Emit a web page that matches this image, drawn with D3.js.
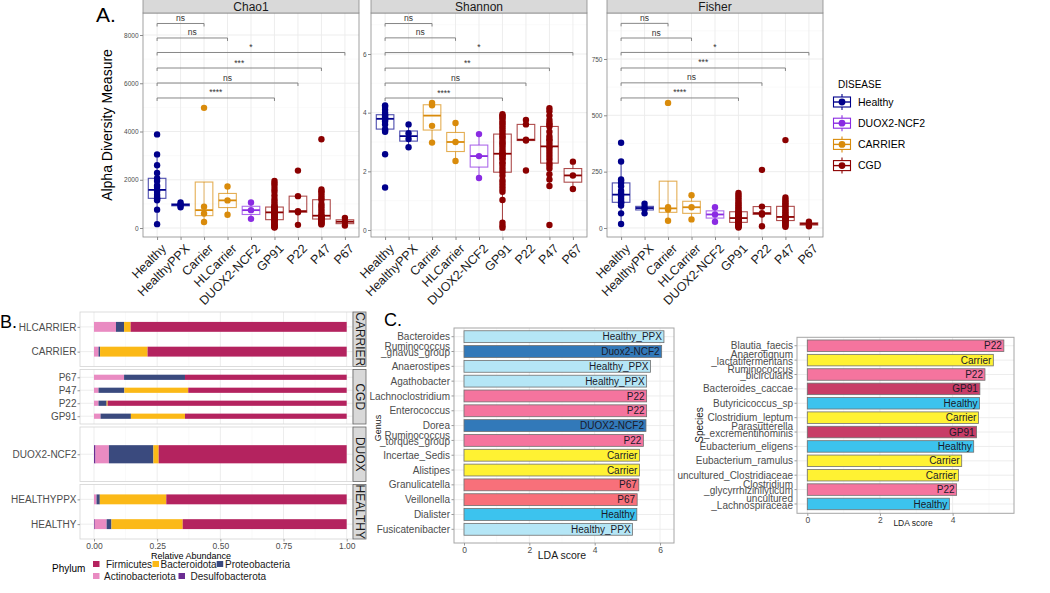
<!DOCTYPE html>
<html><head><meta charset="utf-8">
<script src="https://cdn.jsdelivr.net/npm/d3@7"></script>
<style>body{margin:0;background:#fff} svg{display:block}</style>
</head><body><svg id="c" width="1050" height="593"></svg>
<script>
// ================= DATA =================
// Panel A : alpha diversity
const categories = ["Healthy","HealthyPPX","Carrier","HLCarrier","DUOX2-NCF2","GP91","P22","P47","P67"];
const categoryDisease = ["Healthy","Healthy","CARRIER","CARRIER","DUOX2-NCF2","CGD","CGD","CGD","CGD"];
const diseases = ["Healthy","DUOX2-NCF2","CARRIER","CGD"];
const diseaseColors = ["#00008B","#8A2BE2","#D98B0B","#8B0000"];

const chao1Values = [
  [160,760,1150,1200,1230,1300,1380,1500,1580,1700,1760,1950,2060,2280,2600,3050,3880],
  [860,940,980,1060],
  [250,600,880,4980],
  [550,1145,1720],
  [380,740,1060],
  [20,40,60,90,120,150,200,250,290,320,345,380,420,450,480,510,540,570,600,625,648,670,690,710,740,760,790,810,830,850,869,920,1000,1100,1200,1350,1500,1620,1750,1850,1950],
  [130,650,700,1320,2380],
  [150,180,220,260,300,340,372,400,420,440,460,490,510,600,700,800,900,1000,1172,1250,1350,1450,1520,1600,3680],
  [100,260,420]
];
const shannonValues = [
  [1.45,2.58,3.35,3.40,3.44,3.60,3.70,3.75,3.79,3.82,3.85,3.90,3.93,4.00,4.10,4.20,4.25],
  [2.82,3.1,3.3,3.6],
  [2.98,3.55,4.25,4.33],
  [2.35,3.0,3.65],
  [1.77,2.52,3.27],
  [0.08,0.15,0.25,1.02,1.3,1.4,1.5,1.6,1.7,1.85,1.97,2.05,2.15,2.25,2.3,2.4,2.45,2.5,2.55,2.58,2.6,2.65,2.72,2.8,2.88,2.95,3.0,3.08,3.15,3.2,3.27,3.35,3.42,3.5,3.58,3.65,3.72,3.8,3.85,3.9,3.95],
  [2.03,3.05,3.08,3.6,3.75],
  [0.17,1.5,1.72,1.9,2.1,2.2,2.28,2.4,2.5,2.6,2.7,2.8,2.85,2.95,3.05,3.1,3.2,3.35,3.53,3.6,3.65,3.75,3.9,4.05,4.15],
  [1.4,1.86,2.33]
];
const fisherValues = [
  [18,65,100,110,114,120,130,140,148,155,165,185,200,210,215,295,378],
  [65,85,92,108],
  [32,82,92,555],
  [38,92,145],
  [28,60,92],
  [2,5,8,10,12,14,16,18,20,23,25,27,29,31,33,35,37,39,41,43,44,46,48,50,53,56,59,62,65,68,72,78,85,92,100,108,115,125,135,145,155],
  [8,60,66,95,258],
  [5,10,15,20,25,29,33,36,39,42,44,46,49,55,62,70,78,87,96,103,110,118,125,135,390],
  [8,18,28]
];
const chao1Ticks = [0,2000,4000,6000,8000];
const shannonTicks = [0,2,4,6];
const fisherTicks = [0,250,500,750];
const chao1Minor = [1000,3000,5000,7000];
const shannonMinor = [1,3,5,7];
const fisherMinor = [125,375,625,875];

const comparisonTargets = ["Carrier","HLCarrier","P67","P47","P22","GP91"];
const chao1Sig = ["ns","ns","*","***","ns","****"];
const shannonSig = ["ns","ns","*","**","ns","****"];
const fisherSig = ["ns","ns","*","***","ns","****"];
const chao1BracketY = [8477,7876,7275,6632,6010,5389];
const shannonBracketY = [7.04,6.55,6.05,5.52,5.01,4.50];
const fisherBracketY = [908,843,779,710,644,577];

// Panel B : relative abundance
const samples = ["HLCARRIER","CARRIER","P67","P47","P22","GP91","DUOX2-NCF2","HEALTHYPPX","HEALTHY"];
const sampleGroup = ["CARRIER","CARRIER","CGD","CGD","CGD","CGD","DUOX","HEALTHY","HEALTHY"];
const sampleGroups = ["CARRIER","CGD","DUOX","HEALTHY"];
const phyla = ["Desulfobacterota","Actinobacteriota","Proteobacteria","Bacteroidota","Firmicutes"];
const phylumColors = ["#6B2D92","#E98BC2","#3A4A7E","#FBB917","#B4235F"];
const desulfobacterota = [0,0,0,0,0,0,0.006,0,0.003];
const actinobacteriota = [0.087,0.018,0.119,0.018,0.018,0.026,0.053,0.010,0.047];
const proteobacteria   = [0.032,0.006,0.241,0.102,0.032,0.120,0.176,0.013,0.019];
const bacteroidota     = [0.026,0.188,0.000,0.253,0.004,0.214,0.021,0.263,0.282];
const firmicutes       = [0.855,0.788,0.640,0.627,0.946,0.640,0.744,0.714,0.649];
const phylumLegendOrder = ["Firmicutes","Bacteroidota","Proteobacteria","Actinobacteriota","Desulfobacterota"];
const bTicks = [0,0.25,0.5,0.75,1];

// Panel C : LEfSe
const genera = ["Bacteroides","Ruminococcus\n_gnavus_group","Anaerostipes","Agathobacter","Lachnoclostridium","Enterococcus","Dorea","Ruminococcus\n_torques_group","Incertae_Sedis","Alistipes","Granulicatella","Veillonella","Dialister","Fusicatenibacter"];
const genusLDA = [6.12,6.05,5.71,5.59,5.59,5.59,5.57,5.49,5.37,5.37,5.35,5.30,5.29,5.16];
const genusGroup = ["Healthy_PPX","Duox2-NCF2","Healthy_PPX","Healthy_PPX","P22","P22","DUOX2-NCF2","P22","Carrier","Carrier","P67","P67","Healthy","Healthy_PPX"];
const species = ["Blautia_faecis","Anaerotignum\n_lactatifermentans","Ruminococcus\n_bicirculans","Bacteroides_caccae","Butyricicoccus_sp","Clostridium_leptum","Parasutterella\n_excrementihominis","Eubacterium_eligens","Eubacterium_ramulus","uncultured_Clostridiaceae","Clostridium\n_glycyrrhizinilyticum","uncultured\n_Lachnospiraceae"];
const speciesLDA = [5.41,5.12,4.89,4.75,4.74,4.71,4.66,4.58,4.25,4.16,4.11,3.91];
const speciesGroup = ["P22","Carrier","P22","GP91","Healthy","Carrier","GP91","Healthy","Carrier","Carrier","P22","Healthy"];
const lefseGroups = ["Healthy_PPX","Duox2-NCF2","DUOX2-NCF2","P22","Carrier","P67","Healthy","GP91"];
const lefseColors = ["#B5E6F6","#3279B9","#3279B9","#F5749E","#FFF233","#F8707A","#3CC3EE","#C83D67"];
const genusTicks = [0,2,4,6];
const speciesTicks = [0,2,4];

// ================= DRAWING =================
const FONT = "'Liberation Sans', Arial, Helvetica, sans-serif";
const svg = d3.select("#c").style("font-family", FONT);
svg.append("rect").attr("width",1050).attr("height",593).attr("fill","#fff");
const GRID = "#ebebeb", GRID_MINOR = "#f5f5f5", BORDER = "#8a8a8a";

function boxStats(vals){
  const s = vals.slice().sort(d3.ascending);
  const q1 = d3.quantileSorted(s,0.25), med = d3.quantileSorted(s,0.5), q3 = d3.quantileSorted(s,0.75);
  const iqr = q3-q1;
  return {q1, med, q3,
    lo: d3.min(s.filter(v => v >= q1-1.5*iqr)),
    hi: d3.max(s.filter(v => v <= q3+1.5*iqr))};
}
const colorOfCat = i => diseaseColors[diseases.indexOf(categoryDisease[i])];

// ---- Panel A ----
const A_TOP = 13, A_BOT = 237, A_W = 216;
const facets = [
  {name:"Chao1", vals:chao1Values, ticks:chao1Ticks, minor:chao1Minor, domain:[-373,8912], brY:chao1BracketY, sig:chao1Sig, left:143},
  {name:"Shannon", vals:shannonValues, ticks:shannonTicks, minor:shannonMinor, domain:[-0.239,7.398], brY:shannonBracketY, sig:shannonSig, left:371},
  {name:"Fisher", vals:fisherValues, ticks:fisherTicks, minor:fisherMinor, domain:[-40,954], brY:fisherBracketY, sig:fisherSig, left:607}
];
facets.forEach(f => {
  const g = svg.append("g");
  const x = d3.scalePoint().domain(categories).range([f.left, f.left+A_W]).padding(0.6);
  const y = d3.scaleLinear().domain(f.domain).range([A_BOT, A_TOP]);
  g.append("rect").attr("x",f.left).attr("y",A_TOP).attr("width",A_W).attr("height",A_BOT-A_TOP).attr("fill","#fff");
  g.selectAll(".mn").data(f.minor).join("line").attr("x1",f.left).attr("x2",f.left+A_W)
    .attr("y1",d=>y(d)).attr("y2",d=>y(d)).attr("stroke",GRID_MINOR).attr("stroke-width",0.5);
  g.selectAll(".mj").data(f.ticks).join("line").attr("x1",f.left).attr("x2",f.left+A_W)
    .attr("y1",d=>y(d)).attr("y2",d=>y(d)).attr("stroke",GRID).attr("stroke-width",0.9);
  g.selectAll(".vg").data(categories).join("line").attr("x1",d=>x(d)).attr("x2",d=>x(d))
    .attr("y1",A_TOP).attr("y2",A_BOT).attr("stroke",GRID).attr("stroke-width",0.9);
  const bw = x.step()*0.75;
  categories.forEach((c,i) => {
    const st = boxStats(f.vals[i]);
    const col = colorOfCat(i);
    const cx = x(c);
    const bg = g.append("g");
    bg.append("line").attr("x1",cx).attr("x2",cx).attr("y1",y(st.hi)).attr("y2",y(st.q3))
      .attr("stroke",col).attr("stroke-opacity",0.7).attr("stroke-width",1.1);
    bg.append("line").attr("x1",cx).attr("x2",cx).attr("y1",y(st.q1)).attr("y2",y(st.lo))
      .attr("stroke",col).attr("stroke-opacity",0.7).attr("stroke-width",1.1);
    bg.append("rect").attr("x",cx-bw/2).attr("width",bw).attr("y",y(st.q3)).attr("height",Math.max(0.5,y(st.q1)-y(st.q3)))
      .attr("fill","#fff").attr("fill-opacity",0.2).attr("stroke",col).attr("stroke-opacity",0.7).attr("stroke-width",1.1);
    bg.append("line").attr("x1",cx-bw/2).attr("x2",cx+bw/2).attr("y1",y(st.med)).attr("y2",y(st.med))
      .attr("stroke",col).attr("stroke-width",1.8);
    bg.selectAll("circle").data(f.vals[i]).join("circle").attr("cx",cx).attr("cy",d=>y(d)).attr("r",3.2).attr("fill",col);
  });
  g.append("rect").attr("x",f.left).attr("y",A_TOP).attr("width",A_W).attr("height",A_BOT-A_TOP)
    .attr("fill","none").attr("stroke",BORDER).attr("stroke-width",0.8);
  const x0 = x(categories[0]);
  comparisonTargets.forEach((t,k) => {
    const yy = y(f.brY[k]), x1 = x(t);
    g.append("path").attr("d",`M${x0},${yy+3}V${yy}H${x1}V${yy+3}`).attr("fill","none").attr("stroke","#7a7a7a").attr("stroke-width",0.9);
    g.append("text").attr("x",(x0+x1)/2).attr("y",yy-2.5).attr("text-anchor","middle").attr("font-size",8.5).attr("fill","#333").text(f.sig[k]);
  });
  g.append("rect").attr("x",f.left).attr("y",-1).attr("width",A_W).attr("height",A_TOP+1)
    .attr("fill","#d9d9d9").attr("stroke",BORDER).attr("stroke-width",0.8);
  g.append("text").attr("x",f.left+A_W/2).attr("y",A_TOP-2.2).attr("text-anchor","middle").attr("font-size",12).attr("fill","#1a1a1a").text(f.name);
  const ya = g.append("g").attr("transform",`translate(${f.left},0)`)
    .call(d3.axisLeft(y).tickValues(f.ticks).tickSize(3).tickFormat(d3.format("d")));
  ya.select(".domain").remove();
  ya.selectAll("line").attr("stroke",BORDER);
  ya.selectAll("text").attr("font-size",6.5).attr("fill","#4d4d4d").attr("font-family",FONT).attr("x",-4.5);
  const xa = g.append("g").attr("transform",`translate(0,${A_BOT})`).call(d3.axisBottom(x).tickSize(3));
  xa.select(".domain").remove();
  xa.selectAll("line").attr("stroke",BORDER);
  xa.selectAll("text").attr("font-size",12.5).attr("fill","#1a1a1a").attr("font-family",FONT)
    .attr("text-anchor","end").attr("y",0).attr("dy","0.72em")
    .attr("transform","translate(3,6) rotate(-45)");
});
svg.append("text").attr("x",96).attr("y",21.5).attr("font-size",21).attr("fill","#000").text("A.");
svg.append("text").attr("transform","translate(112,125) rotate(-90)").attr("text-anchor","middle")
  .attr("font-size",14).attr("fill","#000").text("Alpha Diversity Measure");
const lgA = svg.append("g");
lgA.append("text").attr("x",838).attr("y",88).attr("font-size",10).attr("fill","#000").text("DISEASE");
diseases.forEach((d,i) => {
  const cy = 102 + i*21.2, cx = 842, col = diseaseColors[i];
  lgA.append("line").attr("x1",cx).attr("x2",cx).attr("y1",cy-8).attr("y2",cy+8).attr("stroke",col).attr("stroke-width",1.1);
  lgA.append("rect").attr("x",cx-8.5).attr("y",cy-5).attr("width",17).attr("height",10).attr("fill","#fff").attr("stroke",col).attr("stroke-width",1.1);
  lgA.append("line").attr("x1",cx-8.5).attr("x2",cx+8.5).attr("y1",cy).attr("y2",cy).attr("stroke",col).attr("stroke-width",1.4);
  lgA.append("circle").attr("cx",cx).attr("cy",cy).attr("r",3.4).attr("fill",col);
  lgA.append("text").attr("x",858).attr("y",cy+3.8).attr("font-size",10.5).attr("fill","#000").text(d);
});

// ---- Panel B ----
const bX = d3.scaleLinear().domain([0,1]).range([94,346.7]);
const B_L = 80, B_R = 353, B_STRIP = 13;
const facetTops = [312,369.5,427,484.5], facetH = 54.5;
const rows = samples.map((s,i) => ({sample:s, Desulfobacterota:desulfobacterota[i], Actinobacteriota:actinobacteriota[i],
  Proteobacteria:proteobacteria[i], Bacteroidota:bacteroidota[i], Firmicutes:firmicutes[i]}));
const stacked = d3.stack().keys(phyla)(rows);
const pColor = d3.scaleOrdinal().domain(phyla).range(phylumColors);
const bMinor = [0.125,0.375,0.625,0.875];
sampleGroups.forEach((grp,gi) => {
  const cats = samples.filter((s,i) => sampleGroup[i] === grp);
  const top = facetTops[gi];
  const y = d3.scalePoint().domain(cats).range([top, top+facetH]).padding(0.6);
  const g = svg.append("g");
  g.append("rect").attr("x",B_L).attr("y",top).attr("width",B_R-B_L).attr("height",facetH).attr("fill","#fff");
  g.selectAll(".mn").data(bMinor).join("line").attr("x1",d=>bX(d)).attr("x2",d=>bX(d)).attr("y1",top).attr("y2",top+facetH)
    .attr("stroke",GRID_MINOR).attr("stroke-width",0.5);
  g.selectAll(".mj").data(bTicks).join("line").attr("x1",d=>bX(d)).attr("x2",d=>bX(d)).attr("y1",top).attr("y2",top+facetH)
    .attr("stroke",GRID).attr("stroke-width",0.9);
  g.selectAll(".hg").data(cats).join("line").attr("x1",B_L).attr("x2",B_R).attr("y1",d=>y(d)).attr("y2",d=>y(d))
    .attr("stroke",GRID).attr("stroke-width",0.9);
  const bh = y.step()*0.4;
  stacked.forEach(layer => {
    g.selectAll(null).data(layer.filter(d => cats.includes(d.data.sample))).join("rect")
      .attr("x",d=>bX(d[0])).attr("width",d=>Math.max(0,bX(d[1])-bX(d[0])))
      .attr("y",d=>y(d.data.sample)-bh/2).attr("height",bh).attr("fill",pColor(layer.key));
  });
  g.append("rect").attr("x",B_L).attr("y",top).attr("width",B_R-B_L).attr("height",facetH)
    .attr("fill","none").attr("stroke","#d4d4d4").attr("stroke-width",0.8);
  g.append("rect").attr("x",B_R).attr("y",top).attr("width",B_STRIP).attr("height",facetH)
    .attr("fill","#d9d9d9").attr("stroke","#666").attr("stroke-width",0.8);
  g.append("text").attr("transform",`translate(${B_R+2.5},${top+facetH/2}) rotate(90)`).attr("text-anchor","middle")
    .attr("font-size",12).attr("fill","#1a1a1a").text(grp);
  const ya = g.append("g").attr("transform",`translate(${B_L},0)`).call(d3.axisLeft(y).tickSize(2.5));
  ya.select(".domain").remove();
  ya.selectAll("line").attr("stroke","#999");
  ya.selectAll("text").attr("font-size",10).attr("fill","#4d4d4d").attr("font-family",FONT).attr("x",-3.5);
});
{
  const xa = svg.append("g").attr("transform",`translate(0,${facetTops[3]+facetH})`)
    .call(d3.axisBottom(bX).tickValues(bTicks).tickSize(2.5).tickFormat(d3.format(".2f")));
  xa.select(".domain").remove();
  xa.selectAll("line").attr("stroke","#999");
  xa.selectAll("text").attr("font-size",8.5).attr("fill","#4d4d4d").attr("font-family",FONT).attr("y",4);
  svg.append("text").attr("x",191).attr("y",558.5).attr("text-anchor","middle").attr("font-size",9).attr("fill","#000").text("Relative Abundance");
  svg.append("text").attr("x",0).attr("y",328).attr("font-size",18).attr("fill","#000").text("B.");
  svg.append("text").attr("x",52).attr("y",572).attr("font-size",10).attr("fill","#000").text("Phylum");
  const keyPos = [[93,564,106],[152.5,564,160.5],[216.7,564,225],[93,576,104],[178.5,576,190.5]];
  phylumLegendOrder.forEach((p,i) => {
    const [kx,ky,tx] = keyPos[i];
    svg.append("rect").attr("x",kx).attr("y",ky-3).attr("width",6.5).attr("height",6).attr("fill",pColor(p));
    svg.append("text").attr("x",tx).attr("y",ky+4).attr("font-size",10).attr("fill","#1a1a1a").text(p);
  });
}

// ---- Panel C ----
const lColor = d3.scaleOrdinal().domain(lefseGroups).range(lefseColors);
function drawLefse(cfg){
  const g = svg.append("g");
  const x = d3.scaleLinear().domain([0, cfg.xMax]).range([cfg.x0, cfg.x0 + cfg.unit*cfg.xMax]);
  const y = d3.scalePoint().domain(cfg.names).range(cfg.yRange).padding(0.6);
  g.append("rect").attr("x",cfg.L).attr("y",cfg.T).attr("width",cfg.R-cfg.L).attr("height",cfg.B-cfg.T).attr("fill","#fff");
  const minor = d3.range(1, (cfg.R-cfg.x0)/cfg.unit, 2);
  g.selectAll(".mn").data(minor).join("line").attr("x1",d=>x(d)).attr("x2",d=>x(d)).attr("y1",cfg.T).attr("y2",cfg.B)
    .attr("stroke",GRID_MINOR).attr("stroke-width",0.5);
  g.selectAll(".mj").data(cfg.ticks).join("line").attr("x1",d=>x(d)).attr("x2",d=>x(d)).attr("y1",cfg.T).attr("y2",cfg.B)
    .attr("stroke",GRID).attr("stroke-width",0.9);
  g.selectAll(".hg").data(cfg.names).join("line").attr("x1",cfg.L).attr("x2",cfg.R).attr("y1",d=>y(d)).attr("y2",d=>y(d))
    .attr("stroke",GRID).attr("stroke-width",0.9);
  const bh = y.step()*0.8;
  cfg.names.forEach((n,i) => {
    g.append("rect").attr("x",x(0)).attr("y",y(n)-bh/2).attr("width",x(cfg.vals[i])-x(0)).attr("height",bh)
      .attr("fill",lColor(cfg.groups[i])).attr("stroke","#707070").attr("stroke-width",0.8);
    g.append("text").attr("x",x(cfg.vals[i])-2).attr("y",y(n)+3.6).attr("text-anchor","end")
      .attr("font-size",cfg.labelSize).attr("fill","#1a1a2a").text(cfg.groups[i]);
    const lines = n.split("\n");
    const t = g.append("text").attr("text-anchor","end").attr("font-size",10).attr("fill","#4d4d4d");
    if (lines.length === 1) {
      t.append("tspan").attr("x",cfg.L-4).attr("y",y(n)+3.6).text(lines[0]);
    } else {
      t.append("tspan").attr("x",cfg.L-4).attr("y",y(n)-1.8).text(lines[0]);
      t.append("tspan").attr("x",cfg.L-4).attr("y",y(n)+4.6).text(lines[1]);
    }
    g.append("line").attr("x1",cfg.L-2.5).attr("x2",cfg.L).attr("y1",y(n)).attr("y2",y(n)).attr("stroke","#999");
  });
  g.append("rect").attr("x",cfg.L).attr("y",cfg.T).attr("width",cfg.R-cfg.L).attr("height",cfg.B-cfg.T)
    .attr("fill","none").attr("stroke","#a6a6a6").attr("stroke-width",1);
  const xa = g.append("g").attr("transform",`translate(0,${cfg.B})`)
    .call(d3.axisBottom(x).tickValues(cfg.ticks).tickSize(2.5).tickFormat(d3.format("d")));
  xa.select(".domain").remove();
  xa.selectAll("line").attr("stroke","#999");
  xa.selectAll("text").attr("font-size",8.5).attr("fill","#4d4d4d").attr("font-family",FONT).attr("y",3.5);
  g.append("text").attr("x",cfg.titleX).attr("y",cfg.titleY).attr("text-anchor","middle").attr("font-size",cfg.titleSize).attr("fill","#1a1a1a").text("LDA score");
  g.append("text").attr("transform",`translate(${cfg.yTitleX},${cfg.yTitleY}) rotate(-90)`).attr("text-anchor","middle")
    .attr("font-size",cfg.yTitleSize).attr("fill","#1a1a1a").text(cfg.yTitle);
}
drawLefse({names:genera, vals:genusLDA, groups:genusGroup, ticks:genusTicks, xMax:6, x0:464, unit:32.67,
  L:454, R:674, T:328, B:543, yRange:[327.8,538.2], labelSize:10,
  titleX:562, titleY:559, titleSize:10.5, yTitle:"Genus", yTitleX:381, yTitleY:428, yTitleSize:9});
drawLefse({names:species, vals:speciesLDA, groups:speciesGroup, ticks:speciesTicks, xMax:4, x0:807.3, unit:36.33,
  L:797, R:1014, T:337.3, B:513.3, yRange:[337.1,512.6], labelSize:10,
  titleX:913, titleY:526, titleSize:8.5, yTitle:"Species", yTitleX:703, yTitleY:425, yTitleSize:10});
svg.append("text").attr("x",384).attr("y",326).attr("font-size",18).attr("fill","#000").text("C.");
</script></body></html>
